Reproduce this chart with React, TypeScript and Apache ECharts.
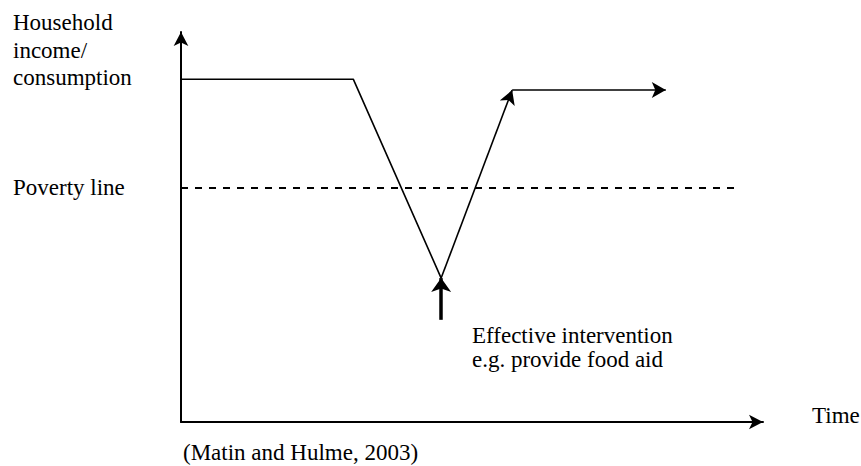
import { useEffect, useRef } from "react";
import * as echarts from "echarts";

// Schematic values (time / income on a 0–100 scale)
const timePoints = [0, 29.6, 44.7, 56.9, 83.3];
const incomePoints = [87.9, 87.9, 36.9, 85.1, 85.1];
const povertyLevel = 60.0;
const povertyStart = 0;
const povertyEnd = 96.2;
const interventionTime = 44.7;
const interventionFrom = 26.2;
const interventionTo = 36.9;

const yLabelLines = ["Household", "income/", "consumption"];
const povertyLabel = "Poverty line";
const interventionLines = ["Effective intervention", "e.g. provide food aid"];
const xLabel = "Time";
const sourceLabel = "(Matin and Hulme, 2003)";

const FONT_FAMILY = "Liberation Serif";
const FONT_SIZE = 23;

export default function App() {
  const ref = useRef<HTMLDivElement>(null);

  useEffect(() => {
    if (!ref.current) return;
    const chart = echarts.init(ref.current, undefined, { renderer: "svg" });

    const pts = timePoints.map((t, i) => [t, incomePoints[i]]);

    const txt = (text: string, x: number, baseline: number) => ({
      type: "text",
      x,
      y: baseline - 8,
      style: {
        text,
        fontFamily: FONT_FAMILY,
        fontSize: FONT_SIZE,
        fontWeight: "normal",
        fill: "#000",
        textAlign: "left",
        textVerticalAlign: "middle",
      },
    });

    const axisCommon = {
      type: "value",
      min: 0,
      max: 100,
      axisLine: {
        show: true,
        symbol: ["none", "arrow"],
        symbolSize: [11, 14],
        lineStyle: { color: "#000", width: 2 },
      },
      axisTick: { show: false },
      axisLabel: { show: false },
      splitLine: { show: false },
    };

    chart.setOption({
      animation: false,
      backgroundColor: "#fff",
      grid: { left: 181, right: 861 - 763, top: 32, bottom: 466 - 422 },
      xAxis: { ...axisCommon },
      yAxis: { ...axisCommon },
      series: [
        {
          type: "line",
          data: pts.slice(0, 3),
          showSymbol: false,
          silent: true,
          clip: false,
          lineStyle: { color: "#000", width: 1.6 },
          markLine: {
            silent: true,
            animation: false,
            symbol: ["none", "arrow"],
            symbolSize: [12, 14],
            label: { show: false },
            lineStyle: { color: "#000", width: 1.6, type: "solid" },
            data: [
              [{ coord: pts[2] }, { coord: pts[3] }],
              [{ coord: pts[3] }, { coord: pts[4] }],
            ],
          },
        },
        {
          type: "line",
          data: [],
          silent: true,
          markLine: {
            silent: true,
            animation: false,
            symbol: ["none", "none"],
            label: { show: false },
            lineStyle: { color: "#000", width: 2, type: [7, 7] },
            data: [
              [
                { coord: [povertyStart, povertyLevel] },
                { coord: [povertyEnd, povertyLevel] },
              ],
            ],
          },
        },
        {
          type: "line",
          data: [],
          silent: true,
          markLine: {
            silent: true,
            animation: false,
            symbol: ["none", "arrow"],
            symbolSize: [15, 14],
            label: { show: false },
            lineStyle: { color: "#000", width: 3.5, type: "solid" },
            data: [
              [
                { coord: [interventionTime, interventionFrom] },
                { coord: [interventionTime, interventionTo] },
              ],
            ],
          },
        },
      ],
      graphic: [
        txt(yLabelLines[0], 13, 30),
        txt(yLabelLines[1], 13, 58),
        txt(yLabelLines[2], 13, 85),
        txt(povertyLabel, 13, 195),
        txt(interventionLines[0], 472, 343),
        txt(interventionLines[1], 472, 367),
        txt(xLabel, 812, 423),
        txt(sourceLabel, 183, 460),
      ],
    });

    return () => chart.dispose();
  }, []);

  return (
    <div
      ref={ref}
      style={{
        position: "fixed",
        left: 0,
        top: 0,
        width: 861,
        height: 466,
        background: "#fff",
      }}
    />
  );
}
